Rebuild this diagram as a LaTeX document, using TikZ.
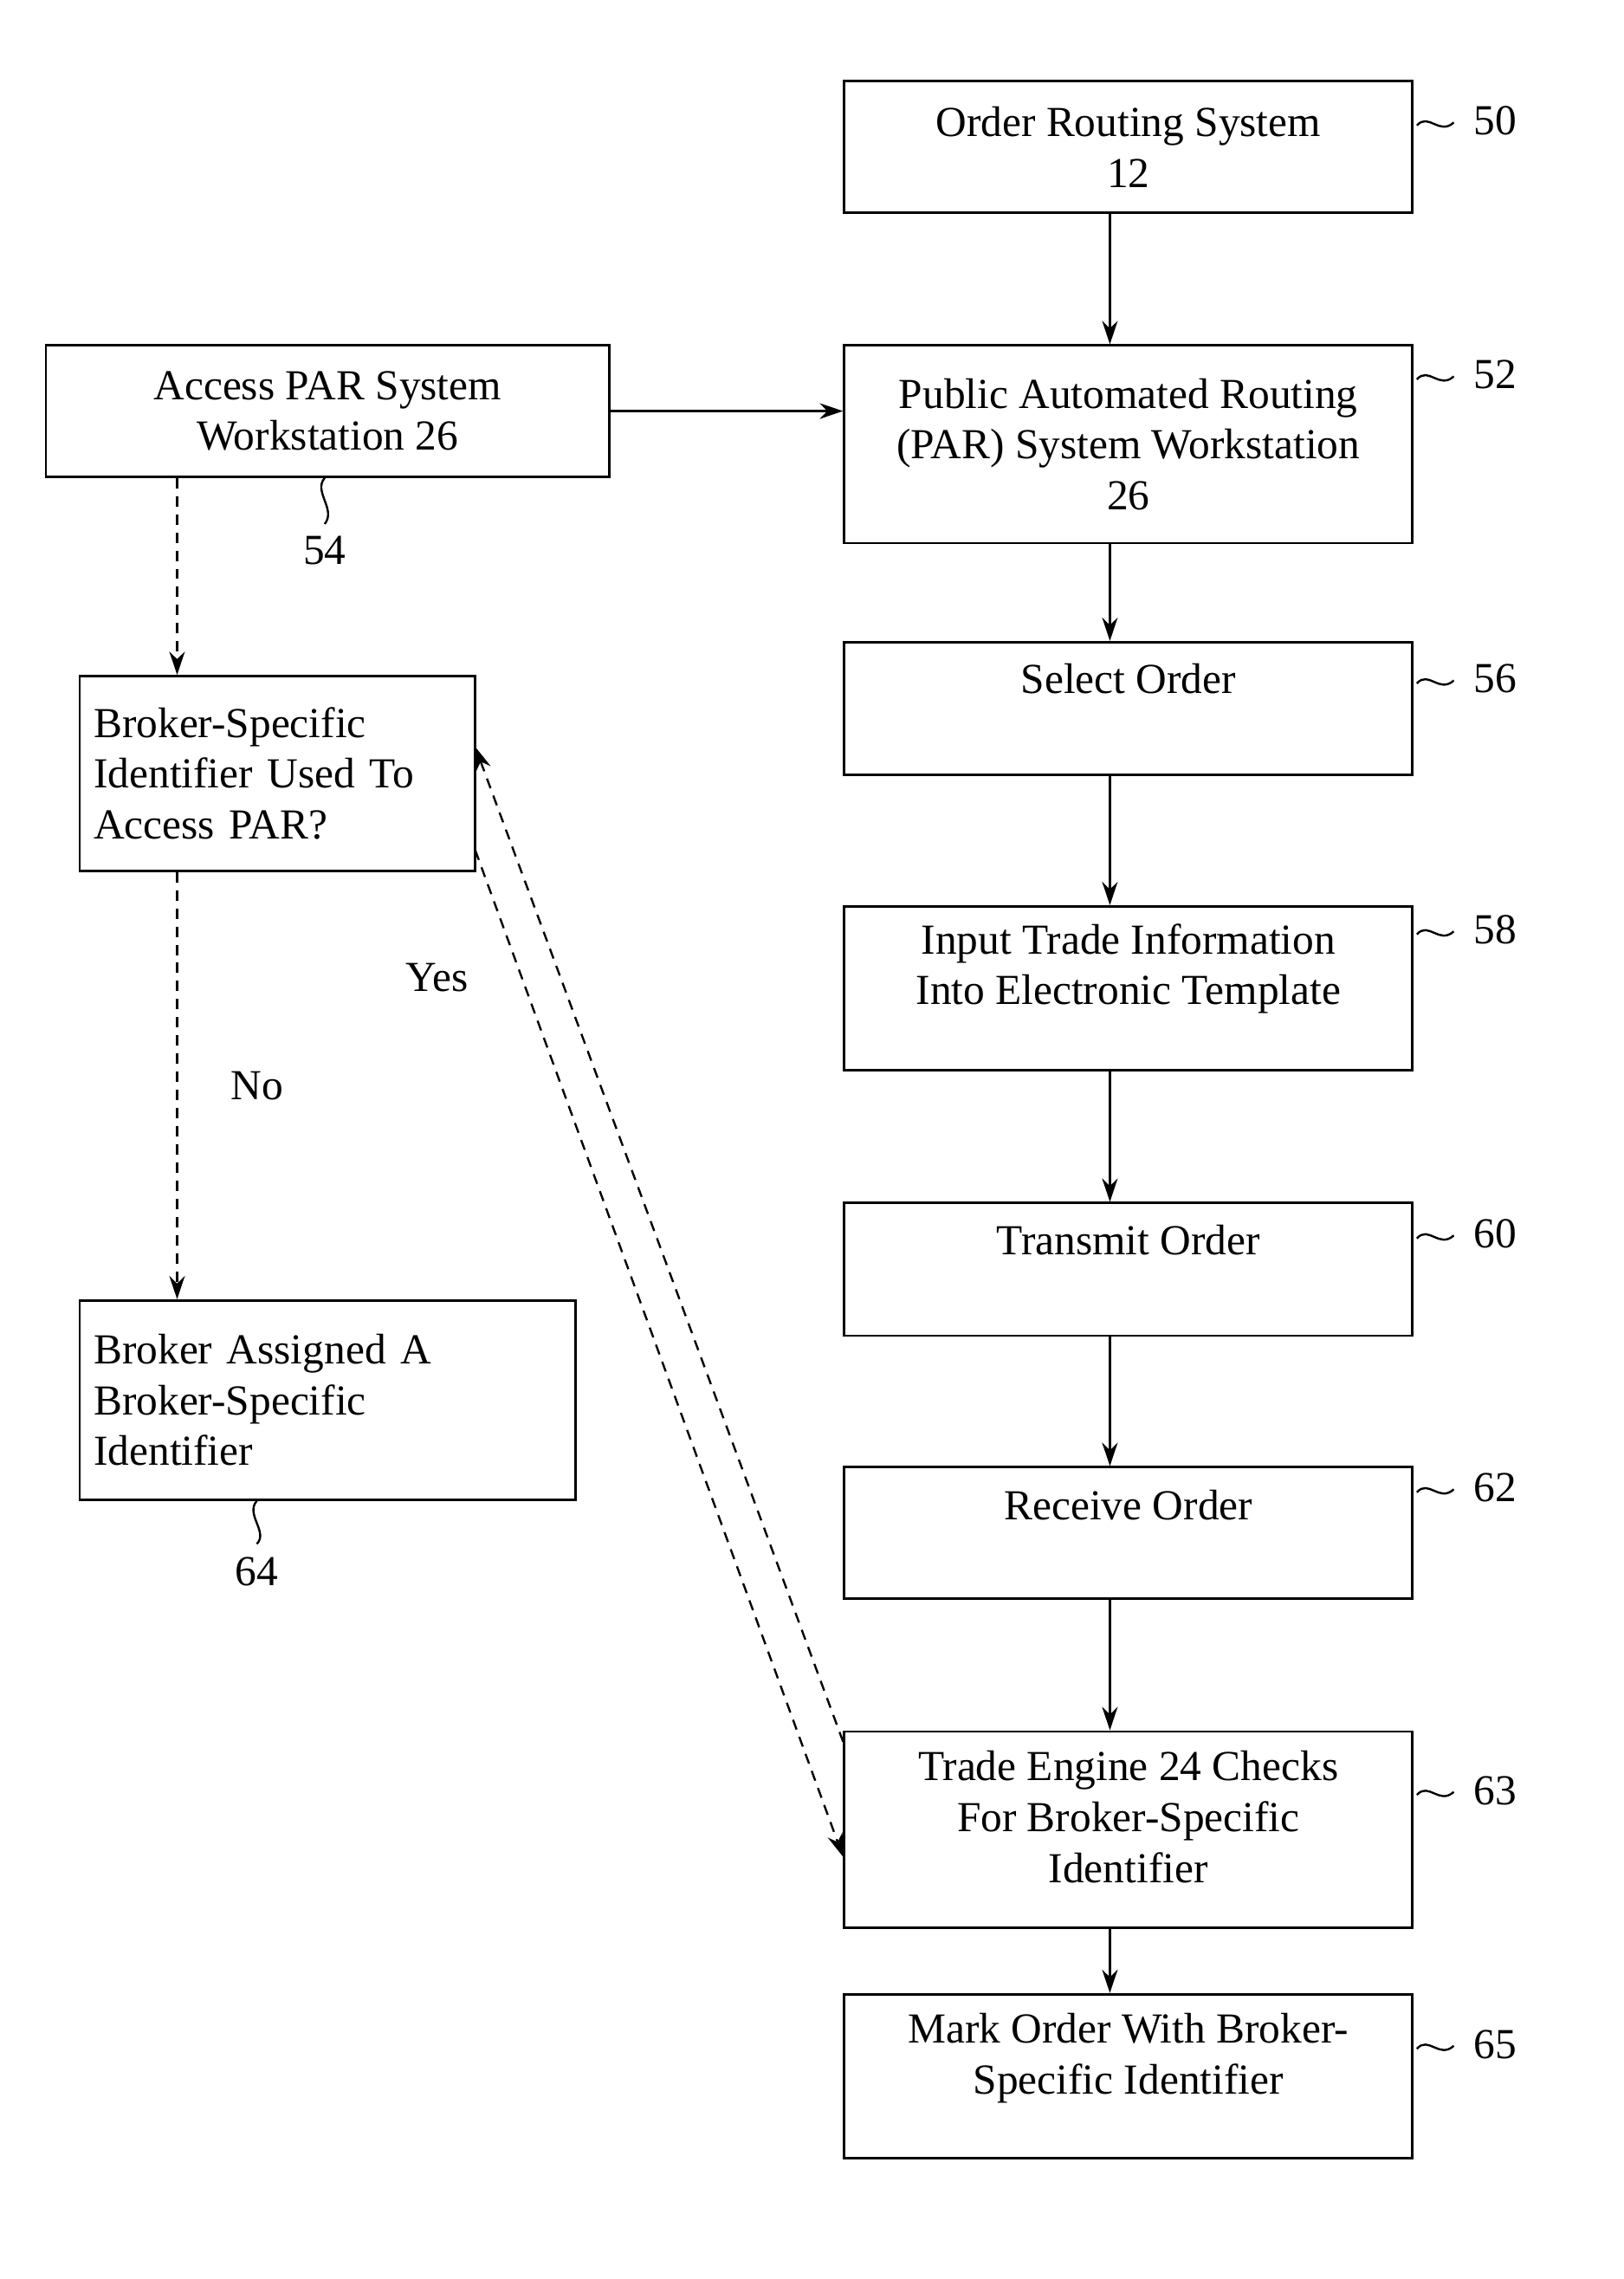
\documentclass[tikz,border=0pt]{standalone}
\usepackage{fontspec}
\setmainfont{Liberation Serif}
\usetikzlibrary{positioning,arrows.meta}
\begin{document}
\begin{tikzpicture}
  [x=0.02cm, y=-0.02cm, >={Stealth[length=9pt,width=6pt]},
    font=\fontsize{16.5}{19.6}\selectfont,
    box/.style={draw, line width=0.9pt, minimum width=7.7cm, align=center},
    lbox/.style={draw, line width=0.9pt, align=left, inner sep=0pt},
    flow/.style={->, line width=0.9pt},
    dflow/.style={->, line width=0.8pt, dash pattern=on 4pt off 3pt},
  ]
  \useasboundingbox (0,0) rectangle (1100,1544);

  % Main column
  \node[box, minimum height=1.78cm] (b50) at (764.5,99.5) {Order Routing System\\12};
  \node[box, minimum height=2.68cm] (b52) at (764.5,301) {Public Automated Routing\\(PAR) System Workstation\\26};
  \node[box, minimum height=1.8cm, text depth=0.8cm] (b56) at (764.5,480) {Select Order};
  \node[box, minimum height=2.22cm, text depth=0.65cm] (b58) at (764.5,669.5) {Input Trade Information\\Into Electronic Template};
  \node[box, minimum height=1.8cm, text depth=0.8cm] (b60) at (764.5,860) {Transmit Order};
  \node[box, minimum height=1.78cm, text depth=0.75cm] (b62) at (764.5,1038.5) {Receive Order};
  \node[box, minimum height=2.66cm, text depth=0.35cm] (b63) at (764.5,1239.5) {Trade Engine 24 Checks\\For Broker-Specific\\Identifier};
  \node[box, minimum height=2.22cm, text depth=0.6cm] (b65) at (764.5,1406.5) {Mark Order With Broker-\\Specific Identifier};

  % Left column
  \node[box, minimum width=7.64cm, minimum height=1.78cm] (b54) at (222,278.5) {Access PAR System\\Workstation 26};
  \node[lbox, minimum width=5.36cm, minimum height=2.64cm, text width=4.98cm] (bq) at (188,524) {Broker-Specific\\Identifier Used To\\Access PAR?};
  \node[lbox, minimum width=6.72cm, minimum height=2.7cm, text width=6.34cm] (b64) at (222,948.5) {Broker Assigned A\\Broker-Specific\\Identifier};

  % Reference numbers
  \foreach \n/\y in {50/82, 52/254, 56/460, 58/630, 60/836, 62/1008, 63/1213, 65/1385} {
    \node (l\n) at (1013,\y) {\n};
    \draw[line width=0.8pt] (960,\y+3) .. controls (968,\y-6) and (975,\y+10) .. (985,\y+1);
  }
  \node (l54) at (220,373) {54};
  \draw[line width=0.8pt] (b54.south -| l54) .. controls (212,333) and (228,345) .. (220,355);
  \node (l64) at (174,1065) {64};
  \draw[line width=0.8pt] (b64.south -| l64) .. controls (166,1026) and (182,1038) .. (174,1046);

  % Edges
  \foreach \a/\b in {b50/b52, b52/b56, b56/b58, b58/b60, b60/b62, b62/b63, b63/b65}
    \draw[flow] (\a.south -| 752,0) -- (\b.north -| 752,0);
  \draw[flow] (b54.east) -- (b54.east -| b52.west);
  \draw[dflow] (b54.south -| 120,0) -- (bq.north -| 120,0);
  \draw[dflow] (bq.south -| 120,0) -- node[right=0.6cm] {No} (b64.north -| 120,0);
  \draw[dflow] (322,576) -- (b63.west |- 0,1258);
  \draw[dflow] (b63.west |- 0,1180) -- (322,506);
  \node (yes) at (296,662) {Yes};
\end{tikzpicture}
\end{document}
